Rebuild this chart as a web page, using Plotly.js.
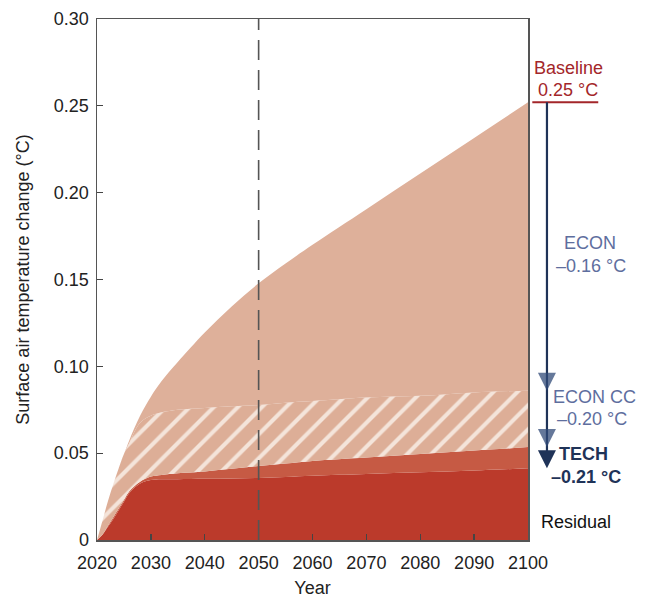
<!DOCTYPE html>
<html>
<head>
<meta charset="utf-8">
<script src="https://cdn.plot.ly/plotly-3.0.1.min.js"></script>
<style>html,body{margin:0;padding:0;background:#fff;}#chart{width:650px;height:598px;}</style>
</head>
<body>
<div id="chart"></div>
<script>
// Data (surface air temperature change, °C)
const years    = [2020,2021,2022,2023,2024,2025,2026,2028,2030,2032,2035,2040,2045,2050,2055,2060,2070,2080,2090,2100];
const baseline = [0,0.011,0.022,0.032,0.041,0.0495,0.0575,0.0715,0.0825,0.0915,0.1025,0.1195,0.1345,0.1478,0.1592,0.170,0.1905,0.211,0.2315,0.252];
const econ     = [0,0.011,0.022,0.032,0.041,0.0495,0.056,0.0675,0.0715,0.0735,0.075,0.076,0.077,0.0777,0.079,0.080,0.082,0.083,0.085,0.086];
const econCC   = [0,0.003,0.008,0.013,0.018,0.023,0.028,0.0335,0.0365,0.0375,0.0385,0.0395,0.041,0.0426,0.044,0.0455,0.0475,0.0495,0.0515,0.0535];
const tech     = [0,0.003,0.0075,0.012,0.017,0.022,0.027,0.0325,0.0345,0.035,0.035,0.0352,0.0354,0.0357,0.0363,0.037,0.038,0.039,0.040,0.0413];
const yTicks   = [0,0.05,0.10,0.15,0.20,0.25,0.30];
const yTickText= ["0","0.05","0.10","0.15","0.20","0.25","0.30"];
const xTicks   = [2020,2030,2040,2050,2060,2070,2080,2090,2100];
const labels = {
  baseline: ["Baseline","0.25 °C"],
  econ: ["ECON","–0.16 °C"],
  econCC: ["ECON CC","–0.20 °C"],
  tech: ["TECH","–0.21 °C"],
  residual: "Residual"
};

const FONT = "Liberation Sans, Arial, Helvetica, sans-serif";
const last = a => a[a.length-1];
const ln = {width:0, shape:'spline', smoothing:1};

const traces = [
  {x: years, y: tech, type:'scatter', mode:'lines', line:ln, fill:'tozeroy', fillcolor:'#BB3A2B', hoverinfo:'skip', showlegend:false},
  {x: years, y: econCC, type:'scatter', mode:'lines', line:ln, fill:'tonexty', fillcolor:'#C65A44', hoverinfo:'skip', showlegend:false},
  {x: years, y: econ, type:'scatter', mode:'lines', line:Object.assign({color:'#F4E4DA'}, ln), fill:'tonexty', fillcolor:'#DDAE97',
   fillpattern:{shape:'/', bgcolor:'#DDAE97', fgcolor:'#F4E4DA', size:17, solidity:0.24}, hoverinfo:'skip', showlegend:false},
  {x: years, y: baseline, type:'scatter', mode:'lines', line:ln, fill:'tonexty', fillcolor:'#DEB09A', hoverinfo:'skip', showlegend:false}
];

const ax = 1.044;   // arrow x in paper coords
const navy = '#1F3358';
const slate = '#5E6E9E';
const red = '#A3262A';

function head(yv, color){
  return {type:'path', xref:'paper', yref:'y', xsizemode:'pixel', ysizemode:'pixel',
    xanchor: ax, yanchor: yv, path:'M -9 18 L 9 18 L 0 0 Z', fillcolor: color, line:{width:0}};
}

const shapes = [
  {type:'line', xref:'x', yref:'paper', x0:2050, x1:2050, y0:0, y1:1, line:{color:'#555', width:1.6, dash:'20px,10px'}},
  {type:'line', xref:'paper', yref:'y', x0:1.01, x1:1.163, y0:last(baseline), y1:last(baseline), line:{color:red, width:2}},
  {type:'line', xref:'paper', yref:'y', x0:ax, x1:ax, y0:last(baseline), y1:last(tech)+0.004, line:{color:navy, width:2.2}},
  head(last(econ), 'rgba(50,75,120,0.75)'),
  head(last(econCC), 'rgba(50,75,120,0.75)'),
  head(last(tech), navy)
];

const ann = (text, x, y, color, weight) => ({text, x, y, xref:'paper', yref:'paper', showarrow:false,
  xanchor:'center', yanchor:'middle', font:{family:FONT, size:18, color, weight:weight||'normal'}});
const py = p => 1 - (p-19)/521;
const px = p => (p-97)/431;

const annotations = [
  ann(labels.baseline[0], px(568), py(68), red),
  ann(labels.baseline[1], px(568), py(90), red),
  ann(labels.econ[0], px(590), py(243), slate),
  ann(labels.econ[1], px(591), py(266), slate),
  ann(labels.econCC[0], px(594), py(397), slate),
  ann(labels.econCC[1], px(592), py(419), slate),
  ann(labels.tech[0], px(583), py(454), navy, 'bold'),
  ann(labels.tech[1], px(586), py(477), navy, 'bold'),
  ann(labels.residual, px(576), py(522), '#111')
];

const layout = {
  width:650, height:598,
  margin:{l:97, r:122, t:19, b:58},
  paper_bgcolor:'#fff', plot_bgcolor:'#fff',
  font:{family:FONT, size:18, color:'#222'},
  showlegend:false,
  xaxis:{range:[2020,2100], tickvals:xTicks, ticks:'inside', ticklen:6, tickcolor:'#444', tickwidth:1.3,
    showline:true, linecolor:'#555', linewidth:1.5, mirror:true, showgrid:false, zeroline:false,
    ticklabelstandoff:6,
    tickfont:{family:FONT, size:18, color:'#222'},
    title:{text:'Year', font:{family:FONT, size:18, color:'#222'}, standoff:11}},
  yaxis:{range:[0,0.30], tickvals:yTicks, ticktext:yTickText, ticks:'inside', ticklen:6, tickcolor:'#444', tickwidth:1.3,
    showline:true, linecolor:'#555', linewidth:1.5, mirror:true, showgrid:false, zeroline:false,
    ticklabelstandoff:3,
    tickfont:{family:FONT, size:18, color:'#222'},
    title:{text:'Surface air temperature change (°C)', font:{family:FONT, size:18, color:'#222'}, standoff:19}},
  shapes, annotations
};

Plotly.newPlot('chart', traces, layout, {staticPlot:true, displayModeBar:false});
</script>
</body>
</html>
